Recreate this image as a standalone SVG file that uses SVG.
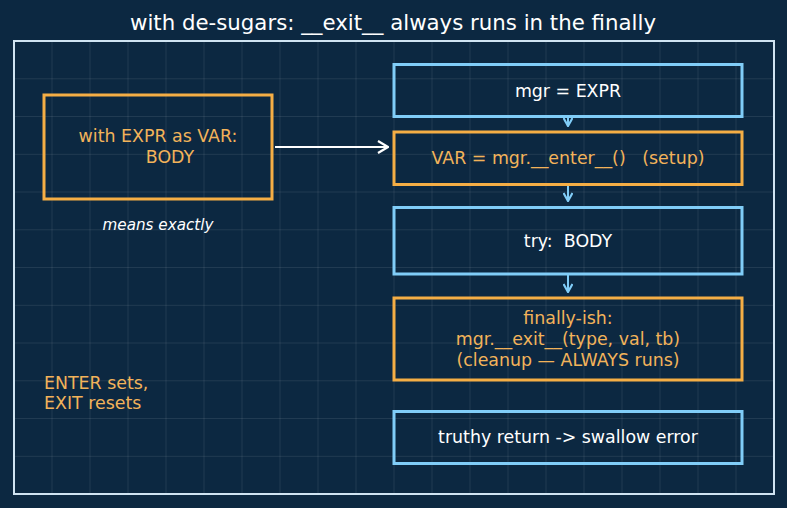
<svg xmlns="http://www.w3.org/2000/svg" width="787" height="508" viewBox="0 0 787 508">
<defs>
<style>
.t{font-family:"DejaVu Sans",sans-serif;font-size:17.4px;text-anchor:middle;white-space:pre}
.w{fill:#ffffff}
.o{fill:#f2b35a}
.bo{fill:none;stroke:#f5ae45;stroke-width:3}
.bb{fill:none;stroke:#80cdf8;stroke-width:3}
.g{stroke:#ffffff;stroke-opacity:0.09;stroke-width:1}
.c{fill:none;stroke:#80cdf8;stroke-width:2}
</style>
<marker id="ah" viewBox="0 0 14 14" refX="13" refY="7" markerWidth="14" markerHeight="14" markerUnits="userSpaceOnUse" orient="auto">
<path d="M3,1 L13,7 L3,13" fill="none" stroke="#ffffff" stroke-width="2.2"/>
</marker>
<marker id="bh" viewBox="0 0 10 10" refX="9" refY="5" markerWidth="10" markerHeight="10" markerUnits="userSpaceOnUse" orient="auto">
<path d="M1,0.5 L9,5 L1,9.5" fill="none" stroke="#80cdf8" stroke-width="2.2"/>
</marker>
</defs>
<rect width="787" height="508" fill="#0c2841"/>
<g id="grid" class="g">
<path d="M52,41V494M90,41V494M128,41V494M166,41V494M204,41V494M242,41V494M280,41V494M318,41V494M356,41V494M394,41V494M432,41V494M470,41V494M508,41V494M546,41V494M584,41V494M622,41V494M660,41V494M698,41V494M736,41V494"/>
<path d="M14,78.8H774M14,116.5H774M14,154.3H774M14,192H774M14,229.8H774M14,267.5H774M14,305.3H774M14,343H774M14,380.8H774M14,418.5H774M14,456.3H774"/>
</g>
<rect id="frame" x="14" y="41" width="760" height="453" fill="none" stroke="#d0e4f2" stroke-width="2"/>
<text id="title" x="393" y="30" class="w" style="font-family:'DejaVu Sans',sans-serif;font-size:21.3px;text-anchor:middle">with de-sugars: __exit__ always runs in the finally</text>
<g id="connectors">
<line x1="275" y1="147" x2="388" y2="147" stroke="#ffffff" stroke-width="2.2" marker-end="url(#ah)"/>
<line x1="568" y1="117" x2="568" y2="126" class="c" marker-end="url(#bh)"/>
<line x1="568" y1="186" x2="568" y2="201" class="c" marker-end="url(#bh)"/>
<line x1="568" y1="275" x2="568" y2="292" class="c" marker-end="url(#bh)"/>
</g>
<g id="with-stmt">
<rect x="44" y="95" width="228" height="104" class="bo"/>
<text x="158" y="142" class="t o">with EXPR as VAR:</text>
<text x="170" y="163" class="t o">BODY</text>
</g>
<text id="means" x="158" y="230" class="w" style="font-family:'DejaVu Sans',sans-serif;font-size:15.2px;font-style:italic;text-anchor:middle">means exactly</text>
<g id="note">
<text x="44" y="388.5" class="o" style="font-family:'DejaVu Sans',sans-serif;font-size:17.4px">ENTER sets,</text>
<text x="44" y="408.5" class="o" style="font-family:'DejaVu Sans',sans-serif;font-size:17.4px">EXIT resets</text>
</g>
<g id="mgr">
<rect x="394" y="64.5" width="348" height="52" class="bb"/>
<text x="568" y="96.5" class="t w">mgr = EXPR</text>
</g>
<g id="enter">
<rect x="394" y="132" width="348" height="52.5" class="bo"/>
<text x="568" y="163.5" class="t o">VAR = mgr.__enter__()   (setup)</text>
</g>
<g id="try">
<rect x="394" y="207.5" width="348" height="66.5" class="bb"/>
<text x="568" y="247.3" class="t w">try:  BODY</text>
</g>
<g id="finally">
<rect x="394" y="298" width="348" height="82" class="bo"/>
<text x="568" y="324.3" class="t o">finally-ish:</text>
<text x="568" y="345" class="t o">mgr.__exit__(type, val, tb)</text>
<text x="568" y="365.5" class="t o">(cleanup — ALWAYS runs)</text>
</g>
<g id="truthy">
<rect x="394" y="411.5" width="348" height="52" class="bb"/>
<text x="568" y="443" class="t w">truthy return -&gt; swallow error</text>
</g>
</svg>
